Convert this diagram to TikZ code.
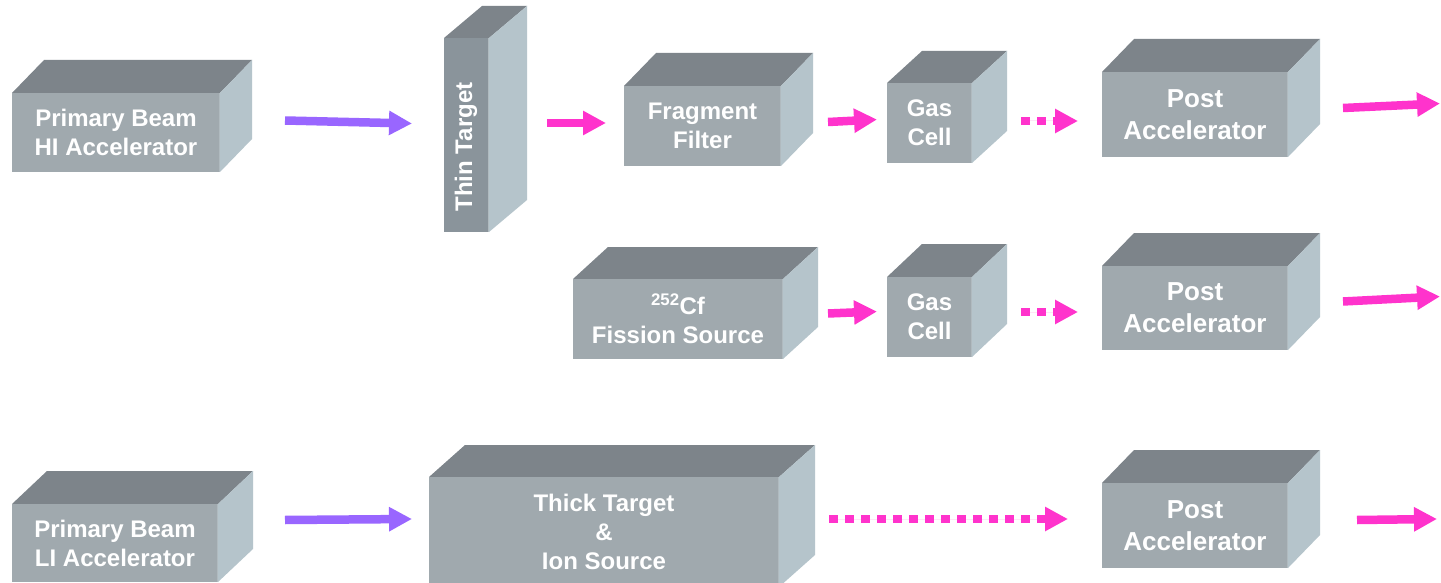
\documentclass[tikz,border=0pt]{standalone}
\usepackage{fontspec}
\setmainfont{Liberation Sans}
\usetikzlibrary{arrows.meta}
\definecolor{frontc}{HTML}{A0A9AE}
\definecolor{thinc}{HTML}{8A949B}
\definecolor{topc}{HTML}{7D848A}
\definecolor{sidec}{HTML}{B5C4CB}
\definecolor{edgec}{HTML}{B0BABF}
\definecolor{pinkc}{HTML}{FF33CC}
\definecolor{purplec}{HTML}{9966FF}
\tikzset{
  frontbox/.style={fill=frontc, inner sep=0pt, outer sep=0pt, text=white, align=center,
    font=\bfseries\fontsize{24}{29}\selectfont},
  postbox/.style={frontbox, font=\bfseries\fontsize{26}{32}\selectfont},
  thinbox/.style={frontbox, fill=thinc},
  beam/.style={line width=8.5pt, -{Triangle[length=23pt,width=23pt]}},
  pinkbeam/.style={beam, draw=pinkc, fill=pinkc},
  purplebeam/.style={beam, draw=purplec, fill=purplec},
  dotbeam/.style={pinkbeam, dash pattern=on 9pt off 7pt},
}
% #1 name, #2 x1, #3 y1, #4 x2, #5 y2, #6 dx, #7 dy, #8 style, #9 text
\newcommand\mycuboid[9]{%
  \fill[topc] (#2,#3) -- ({#2+#6},{#3-#7}) -- ({#4+#6},{#3-#7}) -- (#4,#3) -- cycle;
  \fill[sidec] (#4,#3) -- ({#4+#6},{#3-#7}) -- ({#4+#6},{#5-#7}) -- (#4,#5) -- cycle;
  \node[#8, minimum width={#4-#2}, minimum height={#5-#3}] (#1) at ({(#2+#4)/2},{(#3+#5)/2}) {#9};
  \draw[edgec, line width=1.5pt] ([xshift=-0.75pt]#1.north east) -- ([xshift=-0.75pt]#1.south east);
}
\begin{document}
\begin{tikzpicture}[x=1pt, y=-1pt]
\fill[white] (0,0) rectangle (1441,583);
\useasboundingbox (0,0) rectangle (1441,583);

\mycuboid{hi}{12}{93}{220}{172}{32}{33}{frontbox}{Primary Beam\\HI Accelerator}
\mycuboid{thin}{444}{38}{489}{232}{38}{32}{thinbox}{}
\node[text=white, font=\bfseries\fontsize{24}{29}\selectfont, rotate=90, inner sep=0pt] (thintext) at (466,147) {Thin Target};
\mycuboid{frag}{624}{86}{781}{166}{32}{33}{frontbox}{Fragment\\Filter}
\mycuboid{gas1}{887}{83}{972}{163}{35}{32}{frontbox}{Gas\\Cell}
\mycuboid{post1}{1102}{72}{1288}{157}{32}{33}{postbox}{Post\\Accelerator}

\mycuboid{cf}{573}{279}{783}{359}{35}{32}{frontbox}{\textsuperscript{252}Cf\\Fission Source}
\mycuboid{gas2}{887}{277}{972}{357}{35}{33}{frontbox}{Gas\\Cell}
\mycuboid{post2}{1102}{266}{1288}{350}{32}{33}{postbox}{Post\\Accelerator}

\mycuboid{li}{12}{504}{218}{582}{35}{33}{frontbox}{Primary Beam\\LI Accelerator}
\mycuboid{thick}{429}{477}{779}{587}{36}{32}{frontbox}{Thick Target\\\&\\Ion Source}
\mycuboid{post3}{1102}{483}{1288}{568}{32}{33}{postbox}{Post\\Accelerator}

% arrow end points
\coordinate (a1s) at (285,120.5); \coordinate (a1e) at (412,123.5);
\coordinate (a2s) at (547,123);   \coordinate (a2e) at (606,123);
\coordinate (a3s) at (828,122);   \coordinate (a3e) at (877,119.5);
\coordinate (a4s) at (1021,121);  \coordinate (a4e) at (1078,121);
\coordinate (a5s) at (1343,108);  \coordinate (a5e) at (1440,103.5);
\coordinate (b1s) at (828,313.5); \coordinate (b1e) at (877,311.5);
\coordinate (b2s) at (1021,312);  \coordinate (b2e) at (1078,312);
\coordinate (b3s) at (1343,301.5);\coordinate (b3e) at (1440,296.5);
\coordinate (c1s) at (285,520);   \coordinate (c1e) at (412,519);
\coordinate (c2s) at (829,519);   \coordinate (c2e) at (1068,519);
\coordinate (c3s) at (1357,520);  \coordinate (c3e) at (1437,519);

\draw[purplebeam] (a1s) -- (a1e);
\draw[pinkbeam] (a2s) -- (a2e);
\draw[pinkbeam] (a3s) -- (a3e);
\draw[dotbeam] (a4s) -- (a4e);
\draw[pinkbeam] (a5s) -- (a5e);
\draw[pinkbeam] (b1s) -- (b1e);
\draw[dotbeam] (b2s) -- (b2e);
\draw[pinkbeam] (b3s) -- (b3e);
\draw[purplebeam] (c1s) -- (c1e);
\draw[dotbeam] (c2s) -- (c2e);
\draw[pinkbeam] (c3s) -- (c3e);
\end{tikzpicture}
\end{document}
